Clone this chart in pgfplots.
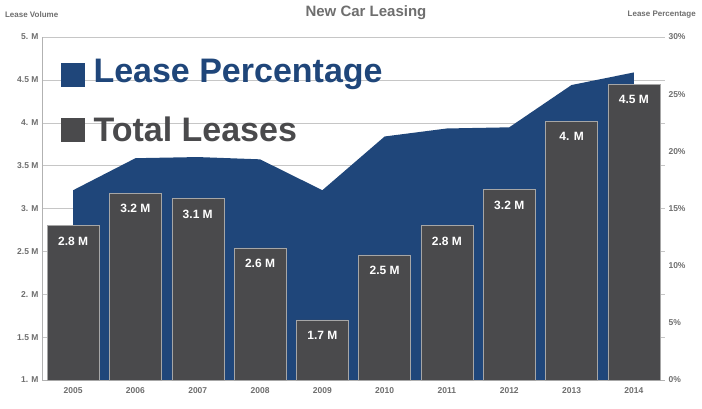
\documentclass[border=0pt]{standalone}
\usepackage{pgfplots}
\pgfplotsset{compat=1.18}
\usepackage{fontspec}
\setmainfont{Liberation Sans}
\definecolor{leaseblue}{HTML}{1F467A}
\definecolor{bargray}{HTML}{4A4A4C}
\definecolor{txtgray}{HTML}{6E6E6E}
\begin{document}
\begin{tikzpicture}
\useasboundingbox (-42pt,-28pt) rectangle (660pt,380pt);
\begin{axis}[scale only axis, width=623pt, height=343pt,
  xmin=-0.5, xmax=9.5, ymin=0, ymax=30,
  axis x line=none, axis y line*=right, axis line style={draw=none},
  ytick={0,5,...,30}, yticklabel={\pgfmathprintnumber{\tick}\%},
  extra y ticks={3.75,7.5,11.25,15,18.75,22.5,26.25,30}, extra y tick labels={},
  extra y tick style={grid=major, major grid style={gray!45}},
  tick style={draw=none},
  yticklabel style={font=\bfseries\fontsize{8.5}{9}\selectfont, text=txtgray},
  /pgf/number format/assume math mode=true]
\addplot[fill=leaseblue, draw=none] coordinates {(0,0)(0,16.6)(1,19.4)(2,19.5)(3,19.3)(4,16.6)(5,21.3)(6,22.0)(7,22.1)(8,25.8)(9,26.9)(9,0)} \closedcycle;
\end{axis}
\begin{axis}[scale only axis, width=623pt, height=343pt,
  xmin=-0.5, xmax=9.5, ymin=1, ymax=5,
  axis y line*=left, axis x line*=bottom,
  axis line style={draw=gray!60},
  ytick={1,1.5,...,5},
  yticklabels={1. M,1.5 M,2. M,2.5 M,3. M,3.5 M,4. M,4.5 M,5. M},
  xtick=data, xticklabels={2005,2006,2007,2008,2009,2010,2011,2012,2013,2014},
  tick style={draw=none},
  ticklabel style={font=\bfseries\fontsize{8.5}{9}\selectfont, text=txtgray},
  ybar, bar width=52pt, clip=false,
  nodes near coords, point meta=explicit symbolic,
  every node near coord/.append style={anchor=north, yshift=-8pt, text=white, font=\bfseries\fontsize{12}{13}\selectfont}]
\addplot[fill=bargray, draw=gray!70] coordinates {(0,2.80)[2.8 M](1,3.18)[3.2 M](2,3.12)[3.1 M](3,2.54)[2.6 M](4,1.70)[1.7 M](5,2.46)[2.5 M](6,2.80)[2.8 M](7,3.22)[3.2 M](8,4.02)[4. M](9,4.45)[4.5 M]};
\node[anchor=west, font=\bfseries\fontsize{8}{9}\selectfont, text=txtgray] at (rel axis cs:-0.065,1.065) {Lease Volume};
\node[anchor=east, font=\bfseries\fontsize{8}{9}\selectfont, text=txtgray] at (rel axis cs:1.055,1.065) {Lease Percentage};
\node[font=\bfseries\fontsize{15}{17}\selectfont, text=txtgray] at (rel axis cs:0.52,1.07) {New Car Leasing};
\fill[leaseblue] (rel axis cs:0.03,0.855) rectangle ++(24pt,24pt);
\node[anchor=west, font=\bfseries\fontsize{34}{38}\selectfont, text=leaseblue] at (rel axis cs:0.077,0.89) {Lease Percentage};
\fill[bargray] (rel axis cs:0.03,0.695) rectangle ++(24pt,24pt);
\node[anchor=west, font=\bfseries\fontsize{34}{38}\selectfont, text=bargray] at (rel axis cs:0.077,0.73) {Total Leases};
\end{axis}
\end{tikzpicture}
\end{document}
